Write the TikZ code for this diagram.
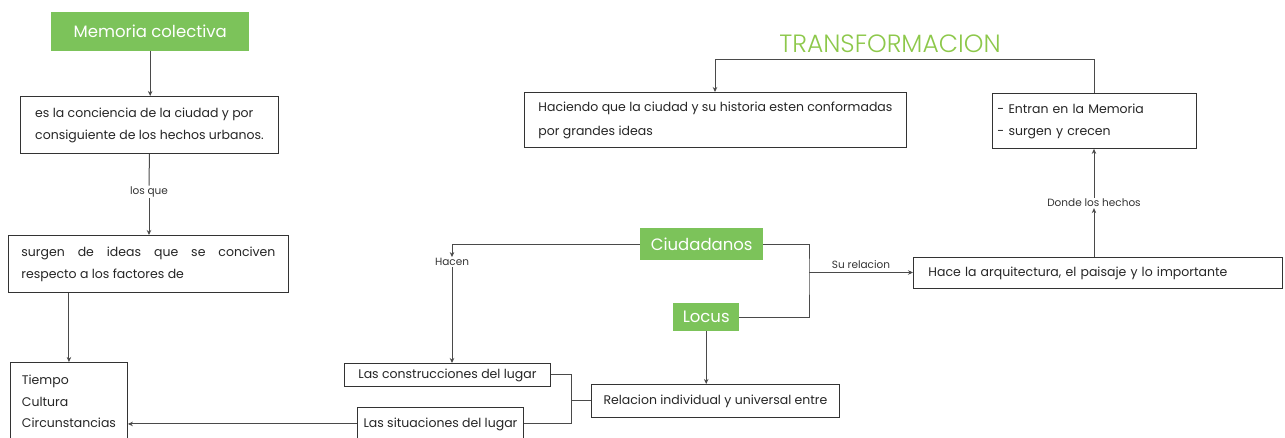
\documentclass[tikz,border=0pt]{standalone}
\usepackage{fontspec}
\setmainfont{Poppins}
\newfontfamily\lightfont{Poppins Light}
\usetikzlibrary{arrows.meta}
\definecolor{gfill}{HTML}{7CC35A}
\definecolor{gtext}{HTML}{8DC84B}
\definecolor{lin}{HTML}{4A4A4A}
\begin{document}
\begin{tikzpicture}[x=1pt,y=-1pt,
  box/.style={draw=black!80, line width=0.9pt, fill=white, anchor=north west, align=left,
    font=\fontsize{12.5}{22}\selectfont, inner xsep=0pt, inner ysep=0pt, text=black!85},
  gbox/.style={fill=gfill, text=white, anchor=north west, inner sep=0pt, font=\fontsize{16.5}{18}\selectfont},
  conn/.style={draw=lin, line width=1pt},
  arr/.style={conn, -{Stealth[length=5pt,width=4.5pt]}},
  lab/.style={font=\fontsize{10.5}{11}\selectfont, text=black!80, inner sep=1pt}]
\useasboundingbox (0,0) rectangle (1285,438);

% title
\node[text=gtext, font=\lightfont\fontsize{25}{27}\selectfont, inner sep=0pt] (tr) at (890,44) {TRANSFORMACION};

% left column
\node[gbox, minimum width=198pt, minimum height=39pt] (mem) at (51,12) {Memoria colectiva};
\node[box, minimum width=258pt, minimum height=57pt] (b1) at (20,96)
  {es la conciencia de la ciudad y por\\consiguiente de los hechos urbanos.};
\node[lab] (lq) at (149,192) {los que};
\node[box, align=justify, text width=254pt, inner xsep=13pt, minimum width=280pt, minimum height=57pt] (b2) at (8,235)
  {surgen de ideas que se conciven\linebreak respecto a los factores de};
\node[box, minimum width=117pt, minimum height=78pt, font=\fontsize{12.5}{21.5}\selectfont] (b3) at (10,362)
  {Tiempo\\Cultura\\Circunstancias};

% middle
\node[box, minimum width=206pt, minimum height=23pt] (cons) at (344,363) {Las construcciones del lugar};
\node[box, minimum width=166pt, minimum height=33pt] (sit) at (357,407) {Las situaciones del lugar};
\node[box, minimum width=248pt, minimum height=33pt] (rel) at (591,384) {Relacion individual y universal entre};
\node[gbox, minimum width=123pt, minimum height=32pt] (ciu) at (640,228) {Ciudadanos};
\node[gbox, minimum width=66pt, minimum height=28pt] (loc) at (673,303) {Locus};
\node[lab] (hac) at (452,262) {Hacen};

% right
\node[box, minimum width=382pt, minimum height=55pt, font=\fontsize{12.5}{24}\selectfont] (hcd) at (524,92)
  {Haciendo que la ciudad y su historia esten conformadas\\por grandes ideas};
\node[box, text width=194pt, inner xsep=5pt, minimum width=204pt, minimum height=55pt] (ent) at (992,93)
  {- Entran en la Memoria\\- surgen y crecen};
\node[box, text width=339pt, inner xsep=15pt, minimum width=369pt, minimum height=31pt] (hace) at (913,257)
  {Hace la arquitectura, el paisaje y lo importante};
\node[lab] (don) at (1094,203) {Donde los hechos};

% coordinates
\coordinate (tx) at (715,60);
\coordinate (rx) at (809,272.5);
\path (rel.west) ++(-20,0) coordinate (bx);

% connectors left
\draw[arr] (mem.south) -- (mem.south |- b1.north);
\draw[conn] (b1.south) -- (lq.north);
\draw[arr] (lq.south) -- (lq.south |- b2.north);
\draw[arr] (b3.north |- b2.south) -- (b3.north);

% connectors middle
\draw[arr] (sit.west) -- (sit.west -| b3.east);
\draw[conn] (cons.east) -| (bx |- sit.east) -- (sit.east);
\draw[conn] (bx) -- (rel.west);
\draw[arr] (loc.south) -- (loc.south |- rel.north);
\draw[arr] (ciu.west) -| (hac.north);
\draw[arr] (hac.south) -- (hac.south |- cons.north);
\draw[conn] (ciu.east) -| (rx) |- (loc.east);
\draw[arr] (rx) -- node[lab, above=2pt] (sr) {Su relacion} (rx -| hace.west);

% connectors right
\draw[arr] (hace.north -| don) -- (don.south);
\draw[arr] (don.north) -- (don.north |- ent.south);
\draw[arr] (ent.north) |- (tx) -- (tx |- hcd.north);
\end{tikzpicture}
\end{document}
